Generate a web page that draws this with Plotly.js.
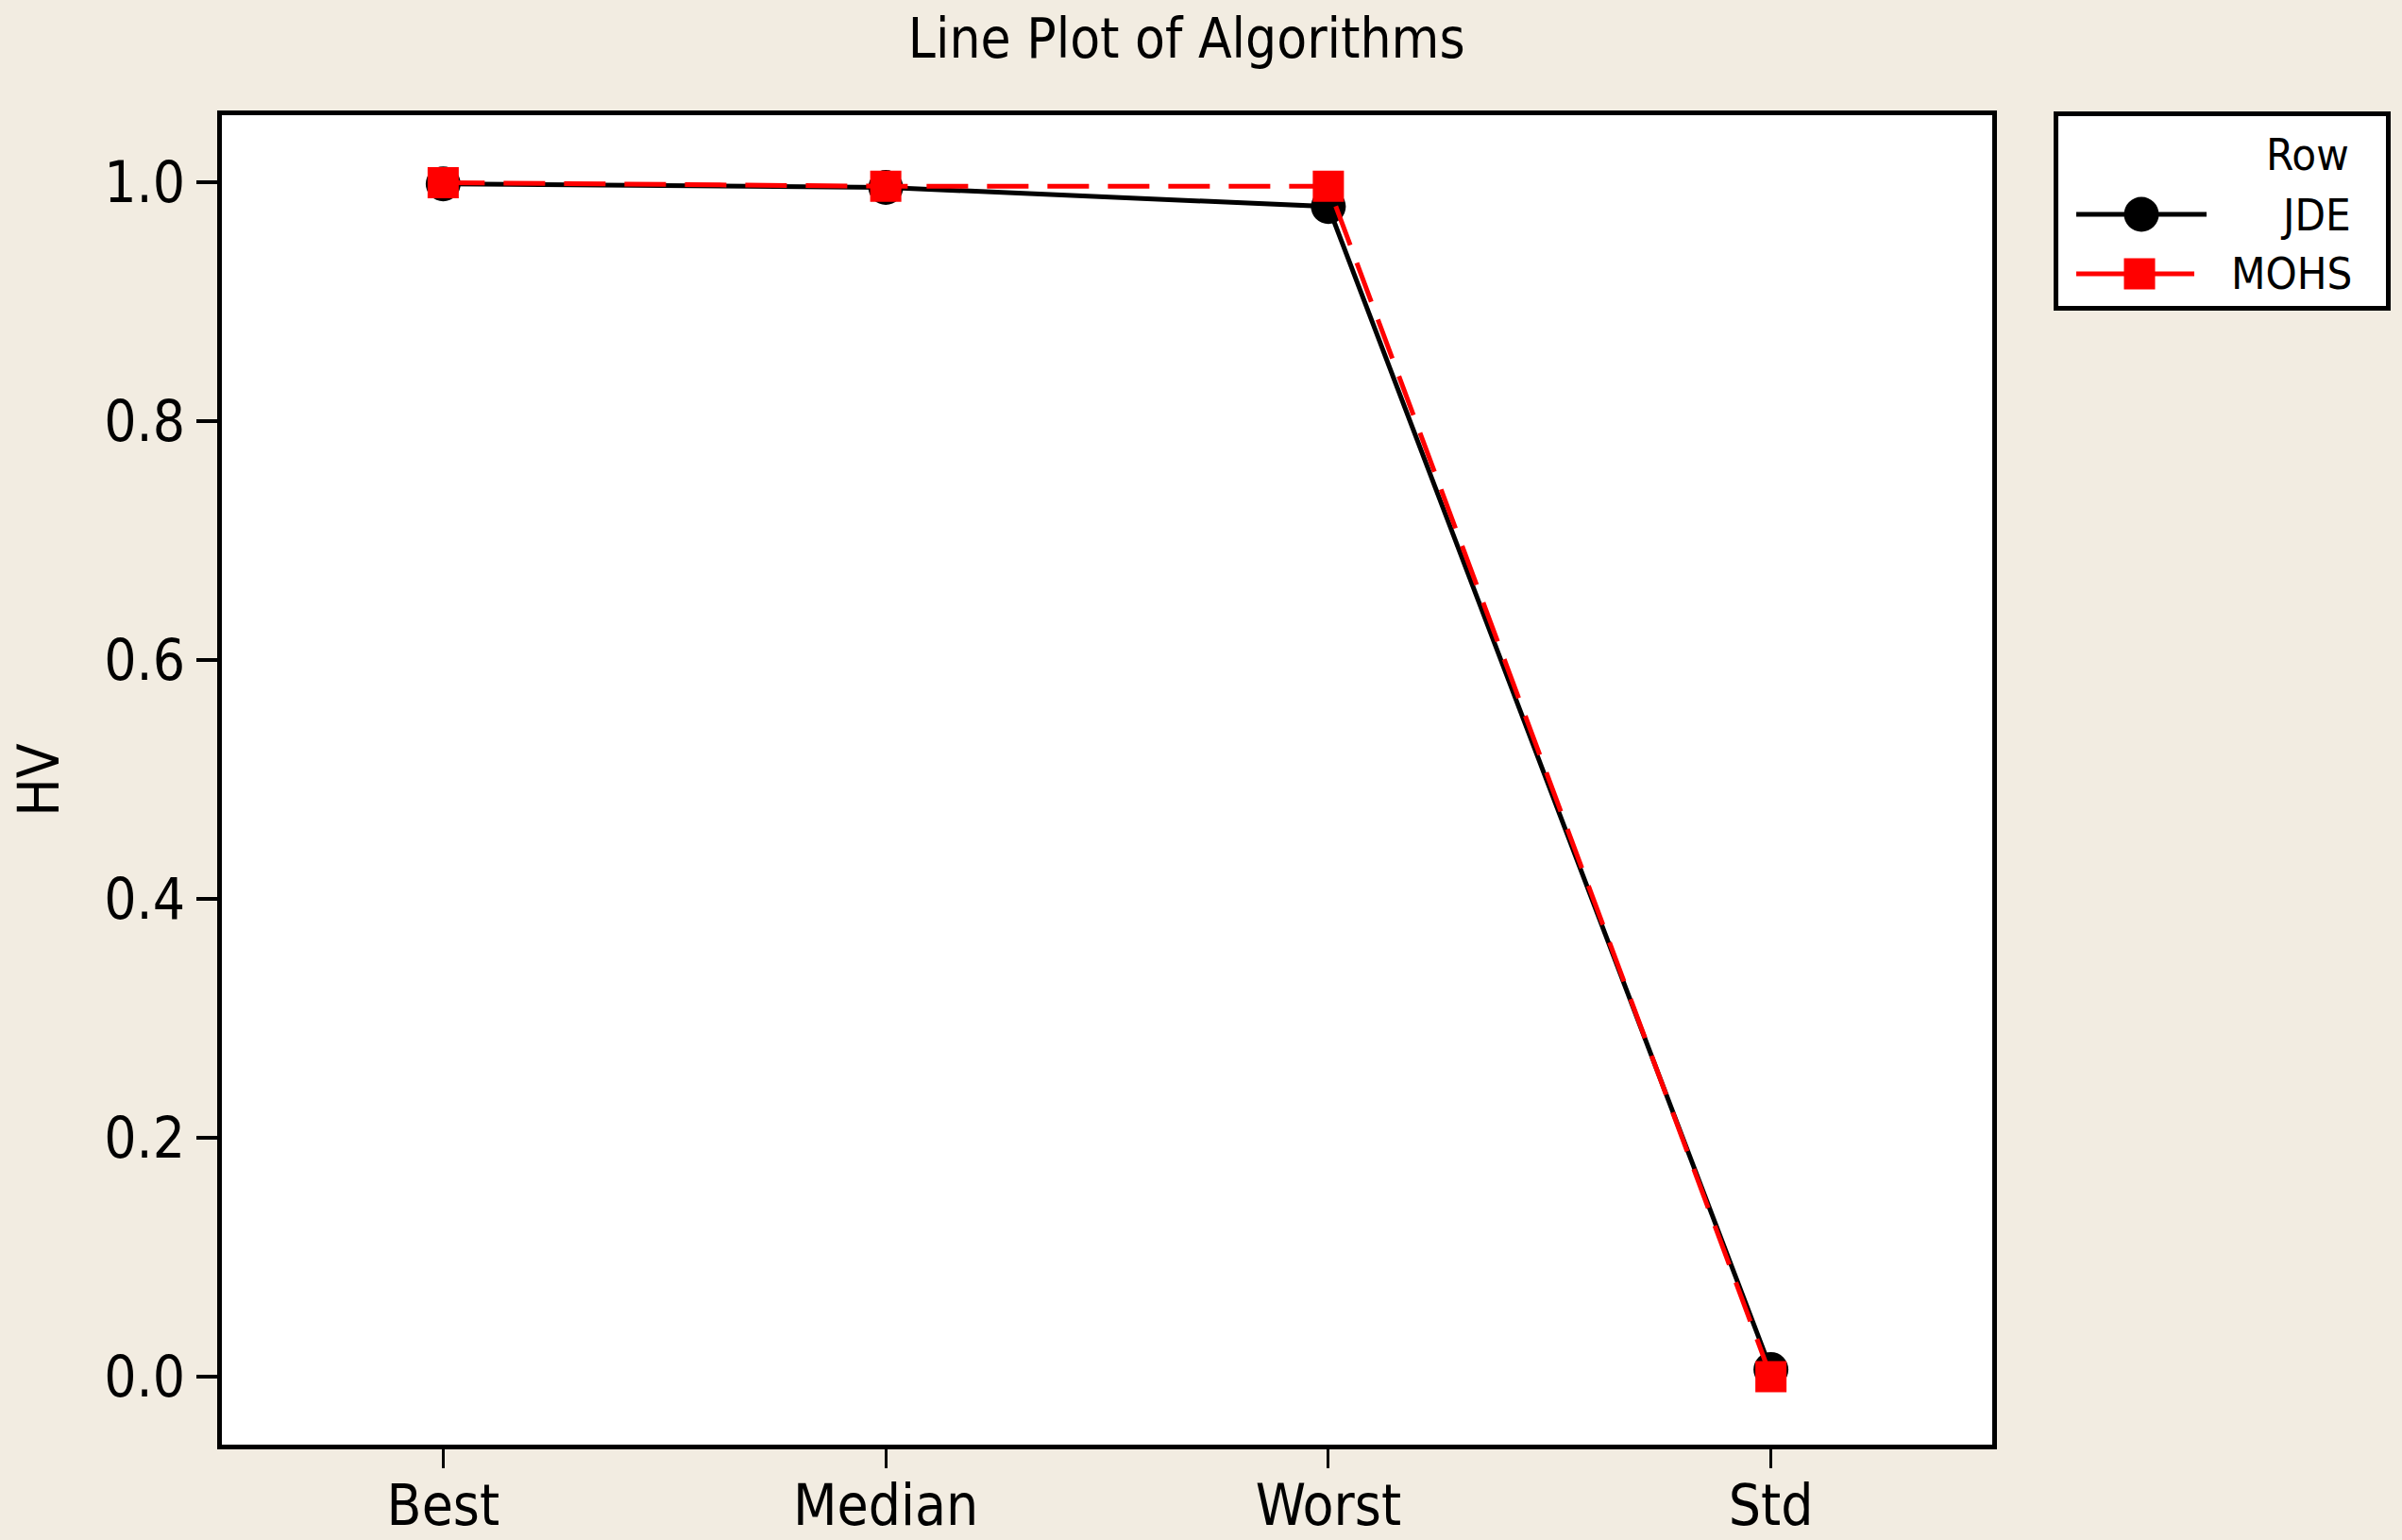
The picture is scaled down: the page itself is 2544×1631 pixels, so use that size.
<!DOCTYPE html>
<html>
<head>
<meta charset="utf-8">
<script src="https://cdn.plot.ly/plotly-3.0.1.min.js"></script>
<style>
html, body { margin: 0; padding: 0; background: #F2ECE1; }
#chart { width: 2544px; height: 1631px; }
</style>
</head>
<body>
<div id="chart"></div>
<script>
const categories = ["Best", "Median", "Worst", "Std"];
const seriesNames = ["JDE", "MOHS"];
const jdeValues = [0.999, 0.996, 0.980, 0.006];
const mohsValues = [1.000, 0.997, 0.997, 0.000];
const yTickValues = [0.0, 0.2, 0.4, 0.6, 0.8, 1.0];
const yTickLabels = ["0.0", "0.2", "0.4", "0.6", "0.8", "1.0"];
const legendTitle = "Row";

const FONT = "'DejaVu Sans Condensed', 'DejaVu Sans', sans-serif";

const W = 2544, H = 1631;
const M = { l: 235, r: 434, t: 122, b: 101 };
const PW = W - M.l - M.r, PH = H - M.t - M.b;
// pixel -> paper helpers (for the hand-built legend box)
const px = v => (v - M.l) / PW;
const py = v => (H - M.b - v) / PH;

const traces = [
  {
    x: categories, y: jdeValues, name: seriesNames[0], type: "scatter", mode: "lines+markers",
    line: { color: "#000000", width: 5 },
    marker: { symbol: "circle", size: 37, color: "#000000" }
  },
  {
    x: categories, y: mohsValues, name: seriesNames[1], type: "scatter", mode: "lines+markers",
    line: { color: "#FF0000", width: 5, dash: "44px,20px" },
    marker: { symbol: "square", size: 33, color: "#FF0000" }
  }
];

const legendShapes = [
  { type: "rect", xref: "paper", yref: "paper", x0: px(2177.5), x1: px(2529.5), y0: py(326.5), y1: py(120.5),
    fillcolor: "#FFFFFF", line: { color: "#000000", width: 5 } },
  { type: "line", xref: "paper", yref: "paper", x0: px(2199), x1: px(2337), y0: py(227), y1: py(227),
    line: { color: "#000000", width: 5 } },
  { type: "circle", xref: "paper", yref: "paper", x0: px(2249.5), x1: px(2286.5), y0: py(245.5), y1: py(208.5),
    fillcolor: "#000000", line: { color: "#000000", width: 0 } },
  { type: "line", xref: "paper", yref: "paper", x0: px(2199), x1: px(2324), y0: py(290), y1: py(290),
    line: { color: "#FF0000", width: 5 } },
  { type: "rect", xref: "paper", yref: "paper", x0: px(2249.5), x1: px(2282.5), y0: py(306.5), y1: py(273.5),
    fillcolor: "#FF0000", line: { color: "#FF0000", width: 0 } }
];

const legendTexts = [
  { text: legendTitle, x: px(2490), y: py(163) },
  { text: seriesNames[0], x: px(2492), y: py(227) },
  { text: seriesNames[1], x: px(2493), y: py(290) }
].map(a => Object.assign({
  xref: "paper", yref: "paper", xanchor: "right", yanchor: "middle", showarrow: false,
  font: { family: FONT, size: 47, color: "#000000" }
}, a));

const layout = {
  width: W, height: H,
  paper_bgcolor: "#F2ECE1",
  plot_bgcolor: "#FFFFFF",
  margin: M,
  font: { family: FONT, color: "#000000", size: 60 },
  title: {
    text: "Line Plot of Algorithms",
    font: { family: FONT, size: 58, color: "#000000" },
    xref: "container", x: 0.494, xanchor: "center",
    yref: "container", y: 0.975, yanchor: "middle"
  },
  xaxis: {
    type: "category",
    range: [-0.5, 3.5],
    showgrid: false, zeroline: false,
    showline: true, linecolor: "#000000", linewidth: 5, mirror: true,
    ticks: "outside", ticklen: 20, tickwidth: 3, tickcolor: "#000000",
    tickfont: { family: FONT, size: 60, color: "#000000" },
    ticklabelstandoff: -12
  },
  yaxis: {
    range: [-0.0569, 1.0565],
    tickvals: yTickValues, ticktext: yTickLabels,
    showgrid: false, zeroline: false,
    showline: true, linecolor: "#000000", linewidth: 5, mirror: true,
    ticks: "outside", ticklen: 22, tickwidth: 4, tickcolor: "#000000",
    tickfont: { family: FONT, size: 60, color: "#000000" },
    title: { text: "HV", font: { family: FONT, size: 60, color: "#000000" }, standoff: 30 }
  },
  showlegend: false,
  shapes: legendShapes,
  annotations: legendTexts
};

Plotly.newPlot("chart", traces, layout, { displayModeBar: false, staticPlot: true });
</script>
</body>
</html>
